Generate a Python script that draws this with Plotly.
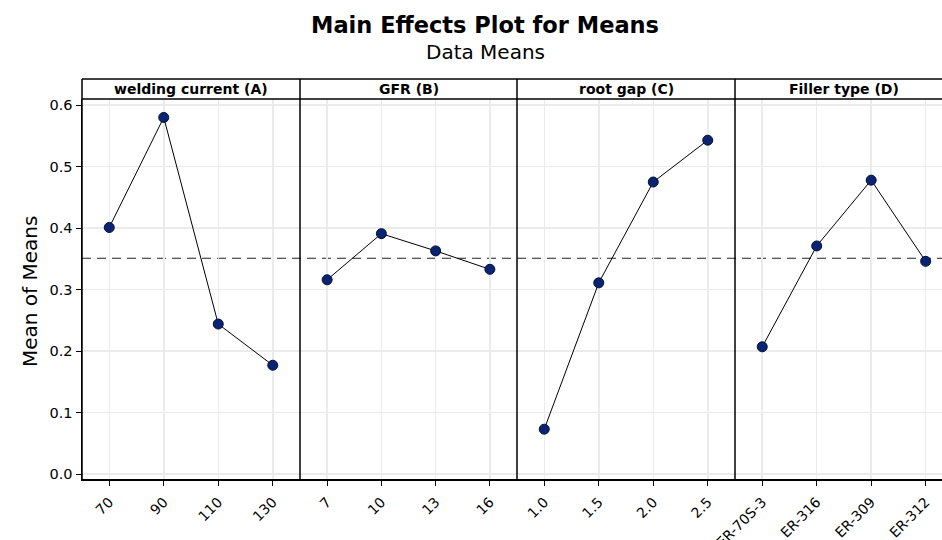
import plotly.graph_objects as go

# ---- data ----
panel_titles = ["welding current (A)", "GFR (B)", "root gap (C)", "Filler type (D)"]
levels_A = ["70", "90", "110", "130"]
means_A = [0.401, 0.580, 0.244, 0.177]
levels_B = ["7", "10", "13", "16"]
means_B = [0.316, 0.391, 0.363, 0.333]
levels_C = ["1.0", "1.5", "2.0", "2.5"]
means_C = [0.073, 0.311, 0.475, 0.543]
levels_D = ["ER-70S-3", "ER-316", "ER-309", "ER-312"]
means_D = [0.207, 0.371, 0.478, 0.346]
grand_mean = 0.351
y_ticks = [0.0, 0.1, 0.2, 0.3, 0.4, 0.5, 0.6]

W, H = 942, 540
ML, MR, MT, MB = 82, 0, 79, 61
PW = W - ML - MR
PH = H - MT - MB

def px_x(p):
    return (p - ML) / PW

def px_y(p):
    return 1 - (p - MT) / PH

bounds_px = [82, 300, 517, 735, 942]
bounds = [px_x(b) for b in bounds_px]
strip_bottom = px_y(99)

levels = [levels_A, levels_B, levels_C, levels_D]
means = [means_A, means_B, means_C, means_D]
xranges = [[-0.5, 3.5], [-0.5, 3.5], [-0.5, 3.5], [-0.5, 3.3]]

FONT = "DejaVu Sans"
fig = go.Figure()
layout = dict(
    width=W, height=H,
    margin=dict(l=ML, r=MR, t=MT, b=MB, autoexpand=False),
    paper_bgcolor="white", plot_bgcolor="white",
    showlegend=False,
    font=dict(family=FONT, color="black", size=14),
)

for i in range(4):
    xa = "x" if i == 0 else f"x{i+1}"
    ya = "y" if i == 0 else f"y{i+1}"
    fig.add_trace(go.Scatter(
        x=list(range(4)), y=means[i], xaxis=xa, yaxis=ya,
        mode="lines+markers",
        line=dict(color="black", width=1),
        marker=dict(size=10, color="#0b2472", line=dict(color="#00103a", width=1)),
        cliponaxis=False, hoverinfo="skip",
    ))
    xkey = "xaxis" if i == 0 else f"xaxis{i+1}"
    ykey = "yaxis" if i == 0 else f"yaxis{i+1}"
    layout[xkey] = dict(
        domain=[bounds[i], bounds[i + 1]], anchor=ya,
        range=xranges[i], tickmode="array", tickvals=list(range(4)),
        ticktext=levels[i], tickangle=-45,
        showgrid=True, gridcolor="#ebebeb", gridwidth=1.5,
        zeroline=False, showline=True, linecolor="black", linewidth=1.5,
        ticks="outside", ticklen=5, tickcolor="black",
        tickfont=dict(size=14, family=FONT), ticklabelstandoff=3,
        automargin=False, fixedrange=True,
    )
    ydict = dict(
        domain=[0, strip_bottom], anchor=xa,
        range=[-0.008, 0.61], tickmode="array", tickvals=y_ticks,
        ticktext=[f"{v:.1f}" for v in y_ticks],
        showgrid=True, gridcolor="#ebebeb", gridwidth=1.5,
        zeroline=False, fixedrange=True, automargin=False,
    )
    if i == 0:
        ydict.update(showline=True, linecolor="black", linewidth=1.5,
                     ticks="outside", ticklen=5, tickcolor="black",
                     tickfont=dict(size=14.5, family=FONT))
    else:
        ydict.update(showline=False, showticklabels=False, matches="y")
    layout[ykey] = ydict

shapes = []
shapes.append(dict(type="line", xref="paper", yref="paper", x0=0, x1=1, y0=1, y1=1,
                   line=dict(color="black", width=1.5)))
shapes.append(dict(type="line", xref="paper", yref="paper", x0=0, x1=1, y0=strip_bottom, y1=strip_bottom,
                   line=dict(color="black", width=1.5)))
for b in bounds[:4]:
    shapes.append(dict(type="line", xref="paper", yref="paper", x0=b, x1=b, y0=0, y1=1,
                       line=dict(color="black", width=1.5)))
shapes.append(dict(type="line", xref="paper", yref="y", x0=0, x1=1, y0=grand_mean, y1=grand_mean,
                   line=dict(color="#222222", width=1.2, dash="9px,6px"), layer="below"))
layout["shapes"] = shapes

annotations = []
for i in range(4):
    annotations.append(dict(
        text=panel_titles[i], xref="paper", yref="paper",
        x=(bounds[i] + bounds[i + 1]) / 2 if i < 3 else px_x((735 + 953) / 2),
        y=(1 + strip_bottom) / 2, showarrow=False,
        font=dict(size=14, family=FONT, weight="bold"), xanchor="center", yanchor="middle",
    ))
annotations.append(dict(text="Main Effects Plot for Means", xref="paper", yref="paper",
                        x=px_x(485), y=px_y(25), showarrow=False,
                        font=dict(size=22.5, family=FONT, weight="bold"),
                        xanchor="center", yanchor="middle"))
annotations.append(dict(text="Data Means", xref="paper", yref="paper",
                        x=px_x(485), y=px_y(52), showarrow=False,
                        font=dict(size=20, family=FONT),
                        xanchor="center", yanchor="middle"))
annotations.append(dict(text="Mean of Means", xref="paper", yref="paper",
                        x=px_x(30), y=px_y(292), showarrow=False, textangle=-90,
                        font=dict(size=20, family=FONT),
                        xanchor="center", yanchor="middle"))
layout["annotations"] = annotations

fig.update_layout(**layout)
fig.write_html("out.html", config={"displayModeBar": False, "staticPlot": True},
               post_script="document.body.style.margin='0px';document.body.style.overflow='hidden';")
